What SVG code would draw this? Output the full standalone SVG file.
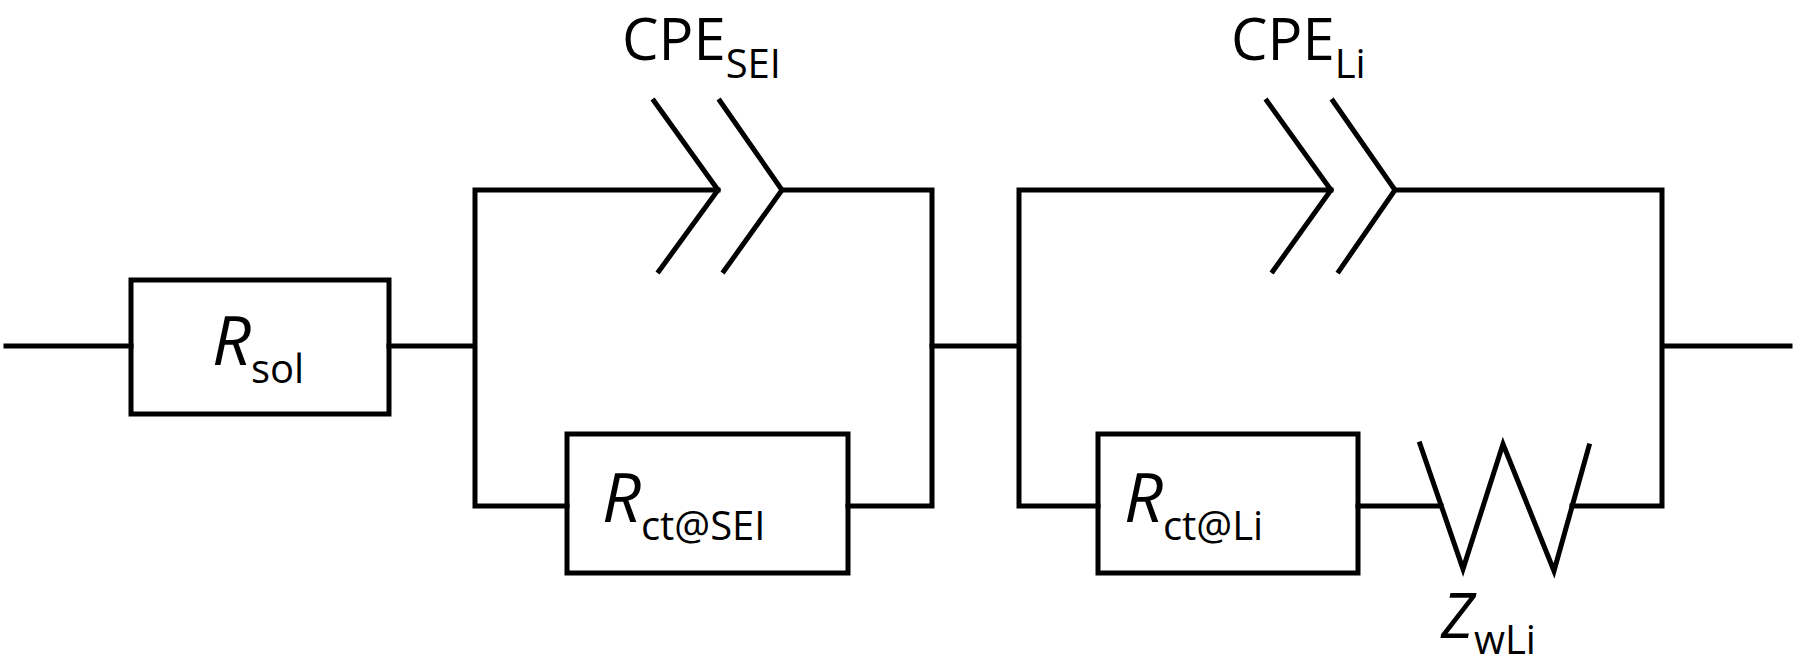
<svg xmlns="http://www.w3.org/2000/svg" width="1800" height="666" viewBox="0 0 1800 666">
<style>
.w{fill:none;stroke:#000;stroke-width:5;stroke-linejoin:miter;stroke-linecap:square}
text{font-family:"Open Sans","Liberation Sans",sans-serif;fill:#000;font-size:58px}
.sub{font-size:40px;font-style:normal}
.it{font-style:italic;font-size:68px}
</style>
<rect width="1800" height="666" fill="#fff"/>
<g id="connectors">
<path class="w" d="M6 346H131M389 346H475M475 190V506M475 190H718M782 190H932V506H848M475 506H567"/>
<path class="w" d="M932 346H1019M1019 190V506M1019 190H1331M1395 190H1662V506H1572M1019 506H1098M1358 506H1441M1662 346H1790"/>
</g>
<g id="Rsol"><rect class="w" x="131" y="280" width="258" height="134"/>
<text x="212" y="365"><tspan class="it">R</tspan><tspan class="sub" dy="18">sol</tspan></text></g>
<g id="CPE_SEI"><path class="w" d="M654 101L718 190L659 271M720 101L782 190L724 271"/>
<text x="622" y="60">CPE<tspan class="sub" dy="18">SEI</tspan></text></g>
<g id="Rct_SEI"><rect class="w" x="567" y="434" width="281" height="139"/>
<text x="602" y="522"><tspan class="it">R</tspan><tspan class="sub" dy="18">ct@SEI</tspan></text></g>
<g id="CPE_Li"><path class="w" d="M1267 101L1331 190L1273 271M1333 101L1395 190L1339 271"/>
<text x="1231" y="60">CPE<tspan class="sub" dy="18">Li</tspan></text></g>
<g id="Rct_Li"><rect class="w" x="1098" y="434" width="260" height="139"/>
<text x="1124" y="522"><tspan class="it">R</tspan><tspan class="sub" dy="18">ct@Li</tspan></text></g>
<g id="ZwLi"><path class="w" d="M1420 444L1463 569L1503 444L1554 571L1589 446"/>
<text x="1441" y="638"><tspan class="it" style="font-size:62px">Z</tspan><tspan class="sub" dy="16">wLi</tspan></text></g>
</svg>
